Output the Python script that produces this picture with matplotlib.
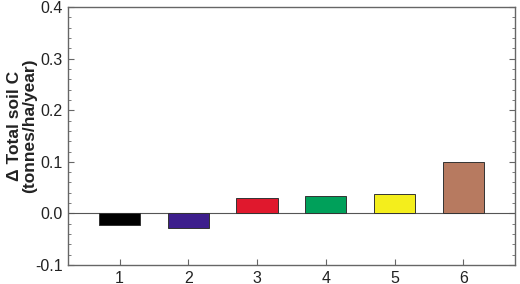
import matplotlib
matplotlib.use("Agg")
import matplotlib.pyplot as plt
from matplotlib.ticker import MultipleLocator

plt.rcParams['font.family'] = ['Liberation Sans', 'DejaVu Sans']

groups = [1, 2, 3, 4, 5, 6]
delta_soil_c = [-0.023, -0.029, 0.029, 0.033, 0.038, 0.099]
bar_colors = ['#000000', '#3d1e8c', '#e0182d', '#00a05a', '#f4ee1c', '#b77a60']

fig = plt.figure(figsize=(5.2, 2.84), dpi=100)
ax = fig.add_axes([0.131, 0.067, 0.859, 0.908])

ax.bar(groups, delta_soil_c, width=0.6, color=bar_colors,
       edgecolor='#333333', linewidth=0.7, zorder=3)
ax.axhline(0, color='#555555', linewidth=0.8, zorder=2)

ax.set_xlim(0.25, 6.75)
ax.set_ylim(-0.1, 0.4)
ax.set_xticks(groups)
ax.yaxis.set_major_locator(MultipleLocator(0.1))
ax.yaxis.set_minor_locator(MultipleLocator(0.02))
ax.set_yticklabels([f"{v:.1f}" for v in ax.get_yticks()])

for s in ax.spines.values():
    s.set_color('#666666')
    s.set_linewidth(1.0)

ax.tick_params(axis='both', which='both', direction='in', color='#666666',
               labelsize=11.5, labelcolor='#222222')
ax.tick_params(axis='y', which='both', right=True, pad=4)
ax.tick_params(axis='y', which='major', length=4)
ax.tick_params(axis='y', which='minor', length=2)
ax.tick_params(axis='x', which='major', length=4, pad=4)

ax.set_ylabel("Δ Total soil C\n(tonnes/ha/year)", fontsize=12.5,
              fontweight='bold', color='#222222', linespacing=1.0)
ax.yaxis.set_label_coords(-0.07, 0.54)

fig.savefig("out.png", dpi=100)
